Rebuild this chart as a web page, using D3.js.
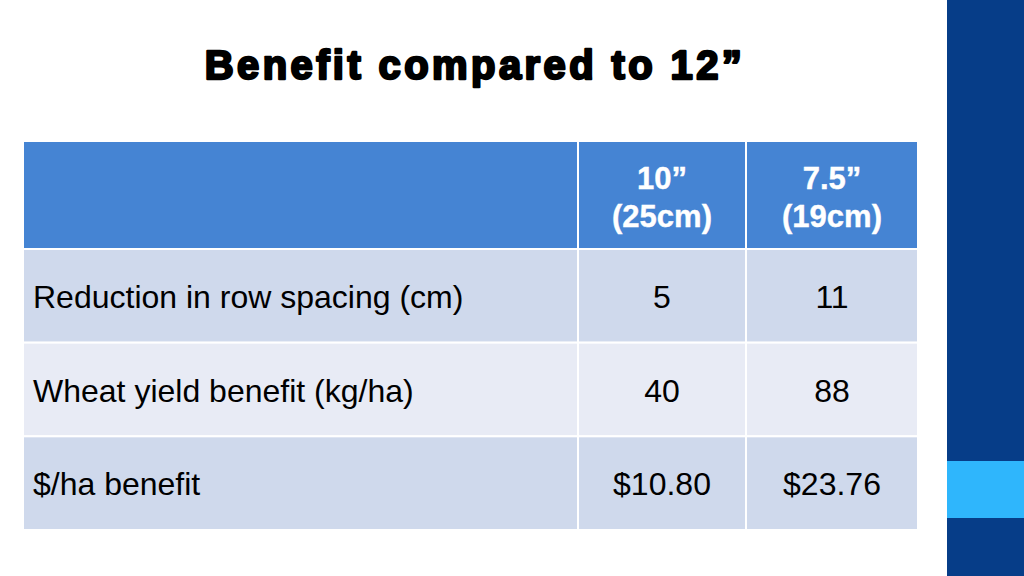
<!DOCTYPE html>
<html>
<head>
<meta charset="utf-8">
<script src="https://cdn.jsdelivr.net/npm/d3@7"></script>
<style>
  body { margin: 0; background: #fff; }
  svg { display: block; font-family: "Liberation Sans", Arial, sans-serif; }
</style>
</head>
<body>
<div id="viz"></div>
<script>
var title = "Benefit compared to 12\u201d";
var columns = ["", "10\u201d|(25cm)", "7.5\u201d|(19cm)"];
var rowLabels = ["Reduction in row spacing (cm)", "Wheat yield benefit (kg/ha)", "$/ha benefit"];
var col10 = ["5", "40", "$10.80"];
var col75 = ["11", "88", "$23.76"];

var W = 1024, H = 576;
var svg = d3.select('#viz').append('svg')
  .attr('width', W)
  .attr('height', H);

// right side band
svg.append('rect').attr('x', 947).attr('y', 0).attr('width', W - 947).attr('height', H).attr('fill', '#063d88');
svg.append('rect').attr('x', 947).attr('y', 461).attr('width', W - 947).attr('height', 57).attr('fill', '#2fb6fc');

// heavy title: bold + outline to get the thick look
svg.append('text')
  .attr('x', 475).attr('y', 79)
  .attr('text-anchor', 'middle')
  .attr('font-size', 40).attr('font-weight', 'bold')
  .attr('letter-spacing', 3.4)
  .attr('fill', '#000')
  .attr('stroke', '#000').attr('stroke-width', 2.4).attr('stroke-linejoin', 'round')
  .text(title);

// column edges and rows
var x = d3.scaleOrdinal().domain(columns).range([23, 578, 746]);
var colW = d3.scaleOrdinal().domain(columns).range([555, 168, 172]);
var y = d3.scaleBand().domain(d3.range(rowLabels.length)).range([249, 530]);
var headTop = 141, headBottom = 249;

var table = svg.append('g').attr('class', 'table');

// header cells
var head = table.selectAll('g.head').data(columns).enter()
  .append('g').attr('class', 'head');
head.append('rect')
  .attr('x', function (d) { return x(d); })
  .attr('y', headTop)
  .attr('width', function (d) { return colW(d); })
  .attr('height', headBottom - headTop)
  .attr('fill', '#4584d3')
  .attr('stroke', '#fff').attr('stroke-width', 2);
head.each(function (d) {
  if (!d) return;
  var lines = d.split('|');
  var g = d3.select(this);
  lines.forEach(function (l, i) {
    g.append('text')
      .attr('x', x(d) + colW(d) / 2)
      .attr('y', 189 + i * 38)
      .attr('text-anchor', 'middle')
      .attr('font-size', 31).attr('font-weight', 'bold')
      .attr('fill', '#fff')
      .attr('stroke', '#fff').attr('stroke-width', 0.4)
      .text(l);
  });
});

// body rows
var rows = rowLabels.map(function (lab, i) {
  return [lab, col10[i], col75[i]];
});
var rowG = table.selectAll('g.row').data(rows).enter()
  .append('g').attr('class', 'row');
rowG.each(function (r, i) {
  var g = d3.select(this);
  columns.forEach(function (c, j) {
    g.append('rect')
      .attr('x', x(c))
      .attr('y', y(i))
      .attr('width', colW(c))
      .attr('height', y.bandwidth())
      .attr('fill', i % 2 == 0 ? '#cfd9ec' : '#e8ebf5')
      .attr('stroke', '#fff').attr('stroke-width', 2);
    g.append('text')
      .attr('x', j == 0 ? x(c) + 10 : x(c) + colW(c) / 2)
      .attr('y', y(i) + y.bandwidth() / 2 + 12)
      .attr('text-anchor', j == 0 ? 'start' : 'middle')
      .attr('font-size', 32)
      .attr('fill', '#000')
      .text(r[j]);
  });
});
</script>
</body>
</html>
